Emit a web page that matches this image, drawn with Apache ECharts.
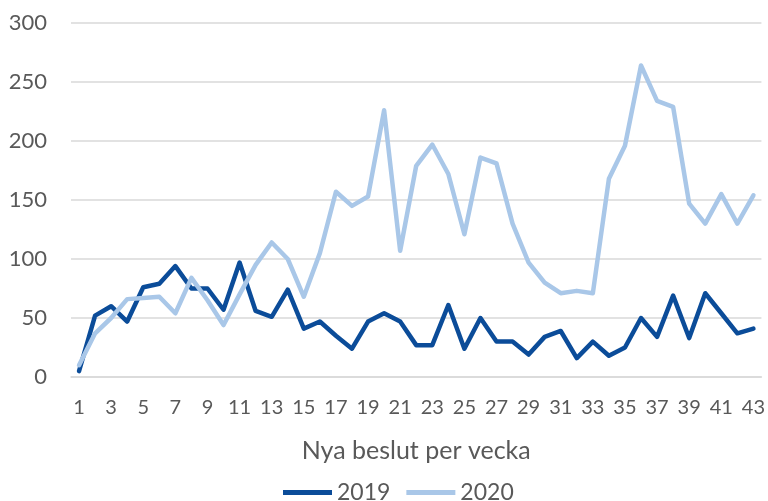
<!DOCTYPE html>
<html>
<head>
<meta charset="utf-8">
<script src="https://cdn.jsdelivr.net/npm/echarts@6/dist/echarts.min.js"></script>
<style>
html,body{margin:0;padding:0;background:#fff;}
#chart{width:768px;height:501px;}
</style>
</head>
<body>
<div id="chart"></div>
<script>
const weeks = Array.from({length: 43}, (_, i) => String(i + 1));
const s2019 = [5,52,60,47,76,79,94,75,75,57,97,56,51,74,41,47,35,24,47,54,47,27,27,61,24,50,30,30,19,34,39,16,30,18,25,50,34,69,33,71,54,37,41];
const s2020 = [10,37,50,66,67,68,54,84,65,44,70,95,114,100,68,105,157,145,153,226,107,179,197,172,121,186,181,130,97,80,71,73,71,168,196,264,234,229,147,130,155,130,154];
const yTicks = {min: 0, max: 300, interval: 50};
const xTitle = 'Nya beslut per vecka';
const names = ['2019', '2020'];

const font = 'Lato, "Open Sans", sans-serif';
const chart = echarts.init(document.getElementById('chart'));
chart.setOption({
  animation: false,
  backgroundColor: '#fff',
  textStyle: {fontFamily: font},
  grid: {left: 71, right: 6, top: 23, bottom: 124, containLabel: false},
  legend: {
    top: 481, left: 283, padding: 0,
    icon: 'rect', itemWidth: 49, itemHeight: 5, itemGap: 16,
    textStyle: {fontFamily: font, fontSize: 23, color: '#595959'},
    data: names
  },
  xAxis: {
    type: 'category', data: weeks, boundaryGap: true,
    name: xTitle, nameLocation: 'middle', nameGap: 61,
    nameTextStyle: {fontFamily: font, fontSize: 25, color: '#595959'},
    axisLine: {show: true, lineStyle: {color: '#d9d9d9', width: 1.5}},
    axisTick: {show: false},
    axisLabel: {interval: 1, margin: 21, fontFamily: font, fontSize: 20, color: '#595959'}
  },
  yAxis: {
    type: 'value', min: yTicks.min, max: yTicks.max, interval: yTicks.interval,
    axisLine: {show: false}, axisTick: {show: false},
    splitLine: {lineStyle: {color: '#d9d9d9', width: 1.5}},
    axisLabel: {margin: 24, fontFamily: font, fontSize: 22, color: '#595959'}
  },
  series: [
    {name: names[0], type: 'line', data: s2019, symbol: 'none', color: '#0B4C99',
     lineStyle: {width: 4.5, color: '#0B4C99', cap: 'round', join: 'round'}},
    {name: names[1], type: 'line', data: s2020, symbol: 'none', color: '#A9C7E8',
     lineStyle: {width: 4.5, color: '#A9C7E8', cap: 'round', join: 'round'}}
  ]
});
</script>
</body>
</html>
